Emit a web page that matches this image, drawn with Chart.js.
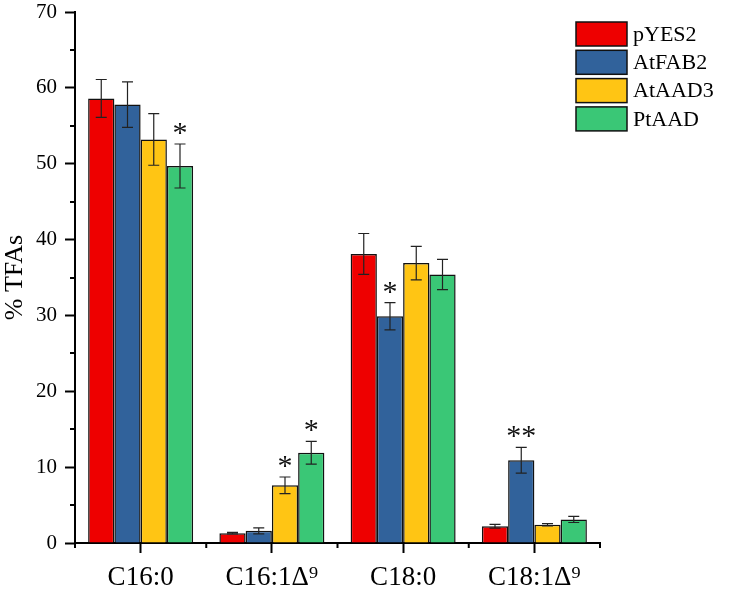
<!DOCTYPE html>
<html>
<head>
<meta charset="utf-8">
<script src="https://cdn.jsdelivr.net/npm/chart.js@4/dist/chart.umd.min.js"></script>
<style>
  html, body { margin: 0; padding: 0; background: #fff; }
  #wrap { width: 739px; height: 591px; }
</style>
</head>
<body>
<div id="wrap"><canvas id="myChart" width="739" height="591"></canvas></div>
<script>
const categories = ['C16:0', 'C16:1Δ⁹', 'C18:0', 'C18:1Δ⁹'];
const seriesNames = ['pYES2', 'AtFAB2', 'AtAAD3', 'PtAAD'];
const seriesColors = ['#ee0000', '#31629b', '#ffc514', '#3ac776'];

const pYES2 = [58.6, 1.3, 38.1, 2.2];
const atFAB2 = [57.8, 1.6, 29.9, 10.9];
const atAAD3 = [53.2, 7.6, 36.9, 2.4];
const ptAAD = [49.7, 11.9, 35.4, 3.1];

const pYES2Err = [2.5, 0.1, 2.7, 0.25];
const atFAB2Err = [3.0, 0.4, 1.8, 1.7];
const atAAD3Err = [3.4, 1.1, 2.2, 0.15];
const ptAADErr = [2.9, 1.5, 2.0, 0.4];

const pYES2Sig = ['', '', '', ''];
const atFAB2Sig = ['', '', '*', '**'];
const atAAD3Sig = ['', '*', '', ''];
const ptAADSig = ['*', '*', '', ''];

const yTicks = [0, 10, 20, 30, 40, 50, 60, 70];

const values = [pYES2, atFAB2, atAAD3, ptAAD];
const errors = [pYES2Err, atFAB2Err, atAAD3Err, ptAADErr];
const sigs = [pYES2Sig, atFAB2Sig, atAAD3Sig, ptAADSig];

const serif = "'Liberation Serif', 'Times New Roman', serif";

// error bars + significance stars
const errorBars = {
    id: 'errorBars',
    afterDatasetsDraw(chart) {
        const ctx = chart.ctx;
        const y = chart.scales.y;
        ctx.save();
        chart.data.datasets.forEach((ds, i) => {
            const meta = chart.getDatasetMeta(i);
            meta.data.forEach((bar, j) => {
                const v = values[i][j];
                const e = errors[i][j];
                const top = y.getPixelForValue(v + e);
                const bot = y.getPixelForValue(v - e);
                ctx.strokeStyle = '#222';
                ctx.lineWidth = 1.2;
                ctx.beginPath();
                ctx.moveTo(bar.x, top);
                ctx.lineTo(bar.x, bot);
                ctx.moveTo(bar.x - 5.5, top);
                ctx.lineTo(bar.x + 5.5, top);
                ctx.moveTo(bar.x - 5.5, bot);
                ctx.lineTo(bar.x + 5.5, bot);
                ctx.stroke();
                if (sigs[i][j]) {
                    ctx.fillStyle = '#111';
                    ctx.font = '30px ' + serif;
                    ctx.textAlign = 'center';
                    ctx.textBaseline = 'alphabetic';
                    ctx.fillText(sigs[i][j], bar.x, top - 2);
                }
            });
        });
        ctx.restore();
    }
};

// minor ticks and legend
const extras = {
    id: 'extras',
    afterDraw(chart) {
        const ctx = chart.ctx;
        const x = chart.scales.x;
        const y = chart.scales.y;
        const area = chart.chartArea;
        ctx.save();
        ctx.strokeStyle = '#000';
        ctx.lineWidth = 2;
        ctx.beginPath();
        for (let t = 5; t < 70; t += 10) {
            const py = Math.round(y.getPixelForValue(t));
            ctx.moveTo(area.left, py);
            ctx.lineTo(area.left - 5, py);
        }
        for (let k = 0; k <= categories.length; k++) {
            const px = x.getPixelForValue(k - 0.5);
            ctx.moveTo(px, area.bottom);
            ctx.lineTo(px, area.bottom + 5);
        }
        ctx.stroke();

        // legend
        const lx = 576, ly = 22, bw = 51, bh = 24, pitch = 28.3;
        ctx.font = '22px ' + serif;
        ctx.textAlign = 'left';
        ctx.textBaseline = 'middle';
        seriesNames.forEach((name, i) => {
            const by = ly + i * pitch;
            ctx.fillStyle = seriesColors[i];
            ctx.fillRect(lx, by, bw, bh);
            ctx.lineWidth = 1.5;
            ctx.strokeStyle = '#111';
            ctx.strokeRect(lx, by, bw, bh);
            ctx.fillStyle = '#000';
            ctx.fillText(name, lx + 57, by + bh / 2 + 1);
        });
        ctx.restore();
    }
};

new Chart(document.getElementById('myChart'), {
    type: 'bar',
    data: {
        labels: categories,
        datasets: seriesNames.map((name, i) => ({
            label: name,
            data: values[i],
            backgroundColor: seriesColors[i],
            borderColor: '#111',
            borderWidth: 1.5,
            categoryPercentage: 0.8,
            barPercentage: 1.0,
        })),
    },
    options: {
        responsive: false,
        animation: false,
        layout: { padding: { top: 12, right: 139, left: 0, bottom: 0 } },
        plugins: {
            legend: { display: false },
            tooltip: { enabled: false },
        },
        scales: {
            x: {
                offset: true,
                grid: { display: true, offset: false, drawOnChartArea: false, tickLength: 10, tickWidth: 2, tickColor: '#000' },
                border: { color: '#000', width: 2 },
                ticks: { color: '#000', font: { family: serif, size: 27 }, padding: 9 },
                afterFit(scale) {
                    scale.height = 48;
                    scale.paddingLeft = 0;
                    scale.paddingRight = 0;
                },
            },
            y: {
                min: 0,
                max: 70,
                afterBuildTicks(scale) { scale.ticks = yTicks.map(v => ({ value: v })); },
                grid: { drawOnChartArea: false, tickLength: 10, tickWidth: 2, tickColor: '#000' },
                border: { color: '#000', width: 2 },
                ticks: { color: '#000', font: { family: serif, size: 21 }, padding: 8 },
                title: { display: true, text: '% TFAs', color: '#000', font: { family: serif, size: 26 }, padding: 0 },
                afterFit(scale) {
                    scale.width = 75;
                    scale.paddingTop = 0;
                    scale.paddingBottom = 0;
                },
            },
        },
    },
    plugins: [errorBars, extras],
});
</script>
</body>
</html>
